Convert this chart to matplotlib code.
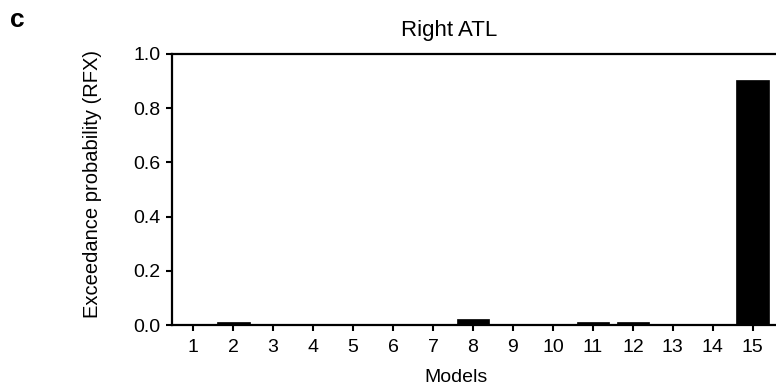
import matplotlib
matplotlib.use("Agg")
import matplotlib.pyplot as plt

plt.rcParams["font.family"] = ["Liberation Sans", "DejaVu Sans"]

models = list(range(1, 16))
exceedance = [0.003, 0.011, 0.0, 0.0, 0.003, 0.005, 0.0, 0.021,
              0.003, 0.0, 0.010, 0.012, 0.003, 0.0, 0.905]
yticks = [0.0, 0.2, 0.4, 0.6, 0.8, 1.0]

W, H = 776, 387
fig = plt.figure(figsize=(W / 100, H / 100), dpi=100)
# axes box in pixels: left 172, right 776, top 54, bottom 325
ax = fig.add_axes([172 / W, 1 - 325 / H, 604 / W, 271 / H])

ax.bar(models, exceedance, width=0.82, color="black", edgecolor="black", linewidth=0.5)

ax.set_xlim(0.47, 15.58)
ax.set_ylim(0, 1.0)
ax.set_xticks(models)
ax.set_yticks(yticks)
ax.set_yticklabels([f"{v:.1f}" for v in yticks])
ax.spines["right"].set_visible(False)
for side in ("left", "bottom", "top"):
    ax.spines[side].set_linewidth(1.6)
ax.tick_params(direction="out", length=4.3, width=1.5, labelsize=14)
ax.tick_params(axis="y", pad=4)
ax.tick_params(axis="x", pad=5.5)

ax.set_ylabel("Exceedance probability (RFX)", fontsize=14.5)
ax.yaxis.set_label_coords((102 - 172) / 604, (325 - 183.5) / 271)
fig.text(449 / W, 1 - 36 / H, "Right ATL", ha="center", va="baseline", fontsize=16)
fig.text(456 / W, 1 - 377 / H, "Models", ha="center", va="center", fontsize=14)
fig.text(17 / W, 1 - 20 / H, "c", ha="center", va="center", fontsize=19, fontweight="bold")

fig.savefig("out.png", dpi=100)
